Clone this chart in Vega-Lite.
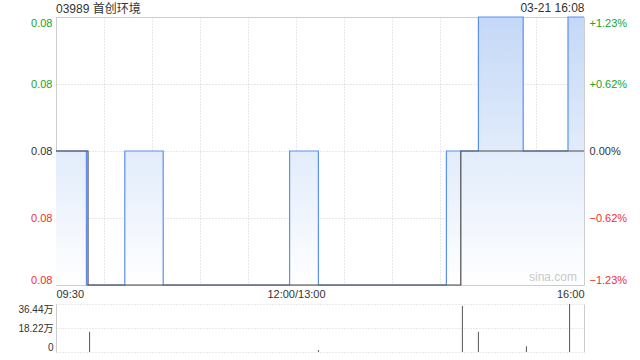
{
  "$schema": "https://vega.github.io/schema/vega-lite/v6.json",
  "padding": {"left": 17, "top": 0, "right": 0, "bottom": 0},
  "background": "white",
  "spacing": 3,
  "config": {
    "font": "Liberation Sans, Noto Sans CJK SC, sans-serif",
    "view": {"stroke": "#cccccc"},
    "axis": {
      "ticks": false,
      "domain": false,
      "gridColor": "#d0d0d0",
      "gridDash": [1, 2],
      "labelFontSize": 11,
      "labelColor": "#333333",
      "title": null
    }
  },
  "datasets": {
    "price": [
      {"t": 0, "p": 0.081},
      {"t": 19, "p": 0.080},
      {"t": 43, "p": 0.081},
      {"t": 67, "p": 0.080},
      {"t": 146, "p": 0.081},
      {"t": 164, "p": 0.080},
      {"t": 244, "p": 0.081},
      {"t": 264, "p": 0.082},
      {"t": 292, "p": 0.081},
      {"t": 320, "p": 0.082},
      {"t": 330, "p": 0.082}
    ],
    "avg": [
      {"t": 0, "a": 0.081},
      {"t": 20, "a": 0.080},
      {"t": 253, "a": 0.081},
      {"t": 330, "a": 0.081}
    ],
    "vol": [
      {"t": 21, "v": 15.3},
      {"t": 164, "v": 1.5},
      {"t": 254, "v": 35.0},
      {"t": 264, "v": 15.3},
      {"t": 294, "v": 4.4},
      {"t": 321, "v": 36.44}
    ]
  },
  "vconcat": [
    {
      "width": 528,
      "height": 268,
      "title": {
        "text": "03989 首创环境",
        "anchor": "start",
        "frame": "group",
        "fontSize": 12,
        "fontWeight": "normal",
        "color": "#333333",
        "offset": -15
      },
      "layer": [
        {
          "data": {"name": "price"},
          "mark": {
            "type": "area",
            "interpolate": "step-after",
            "fill": {
              "gradient": "linear",
              "x1": 0, "y1": 0, "x2": 0, "y2": 1,
              "stops": [
                {"offset": 0, "color": "#c4d8f7"},
                {"offset": 1, "color": "#ffffff"}
              ]
            }
          },
          "encoding": {
            "x": {
              "field": "t",
              "type": "quantitative",
              "scale": {"domain": [0, 330], "nice": false, "zero": false},
              "axis": {
                "orient": "bottom",
                "values": [0, 30, 60, 90, 120, 150, 180, 210, 240, 270, 300, 330],
                "labelExpr": "datum.value == 0 ? '09:30' : datum.value == 150 ? '12:00/13:00' : datum.value == 330 ? '16:00' : ''",
                "labelFlush": true,
                "labelOverlap": false,
                "grid": true,
                "labelPadding": 3
              }
            },
            "y": {
              "field": "p",
              "type": "quantitative",
              "scale": {"domain": [0.080, 0.082], "nice": false, "zero": false},
              "axis": {
                "orient": "left",
                "values": [0.080, 0.0805, 0.081, 0.0815, 0.082],
                "format": ".2f",
                "labelFlush": true,
                "labelPadding": 4,
                "grid": true,
                "labelColor": {
                  "condition": [
                    {"test": "datum.value > 0.08101", "value": "#22a322"},
                    {"test": "datum.value < 0.08099", "value": "#f03030"}
                  ],
                  "value": "#333333"
                }
              }
            },
            "y2": {"datum": 0.080}
          }
        },
        {
          "data": {"name": "price"},
          "mark": {"type": "line", "interpolate": "step-after", "color": "#5d90ee", "strokeWidth": 1.2},
          "encoding": {
            "x": {
              "field": "t",
              "type": "quantitative",
              "axis": {
                "orient": "top",
                "title": "03-21 16:08",
                "titleAnchor": "end",
                "titleFontSize": 12,
                "titleFontWeight": "normal",
                "titleColor": "#333333",
                "titlePadding": 3,
                "labels": false,
                "grid": false
              }
            },
            "y": {
              "field": "p",
              "type": "quantitative",
              "axis": {
                "orient": "right",
                "values": [0.080, 0.0805, 0.081, 0.0815, 0.082],
                "labelExpr": "(datum.value > 0.08101 ? '+' : '') + format((datum.value - 0.081) / 0.081 * 100, '.2f') + '%'",
                "labelFlush": true,
                "labelPadding": 5,
                "grid": false,
                "labelColor": {
                  "condition": [
                    {"test": "datum.value > 0.08101", "value": "#22a322"},
                    {"test": "datum.value < 0.08099", "value": "#f03030"}
                  ],
                  "value": "#333333"
                }
              }
            }
          }
        },
        {
          "data": {"name": "avg"},
          "mark": {"type": "line", "interpolate": "step-after", "color": "#4a4a4a", "strokeWidth": 1.2},
          "encoding": {
            "x": {"field": "t", "type": "quantitative", "axis": null},
            "y": {"field": "a", "type": "quantitative", "axis": null}
          }
        },
        {
          "data": {"values": [{"label": "sina.com"}]},
          "mark": {"type": "text", "align": "right", "baseline": "bottom", "dx": -7, "dy": -1, "color": "#c8c8c8", "fontSize": 12},
          "encoding": {
            "x": {"datum": 330, "axis": null},
            "y": {"datum": 0.080, "axis": null},
            "text": {"field": "label"}
          }
        }
      ],
      "resolve": {"axis": {"x": "independent", "y": "independent"}}
    },
    {
      "width": 528,
      "height": 48,
      "view": {"stroke": null},
      "data": {"name": "vol"},
      "layer": [
        {
          "mark": {"type": "rule", "color": "#555555", "strokeWidth": 1},
          "encoding": {
            "x": {
              "field": "t",
              "type": "quantitative",
              "scale": {"domain": [0, 330], "nice": false, "zero": false},
              "axis": {
                "orient": "bottom",
                "labels": false,
                "grid": false,
                "domain": true,
                "domainColor": "#888888",
                "domainDash": [2, 1]
              }
            },
            "y": {
              "field": "v",
              "type": "quantitative",
              "scale": {"domain": [0, 36.44], "nice": false},
              "axis": {
                "orient": "left",
                "values": [0, 18.22, 36.44],
                "labelExpr": "datum.value == 0 ? '0' : format(datum.value, '.2f') + '万'",
                "labelFlush": true,
                "grid": true,
                "domain": true,
                "domainColor": "#cccccc",
                "labelFontSize": 10,
                "labelPadding": 3
              }
            },
            "y2": {"datum": 0}
          }
        },
        {
          "mark": {"type": "rule", "strokeOpacity": 0},
          "encoding": {
            "x": {"field": "t", "type": "quantitative", "axis": null},
            "y": {
              "field": "v",
              "type": "quantitative",
              "axis": {"orient": "right", "labels": false, "grid": false, "domain": true, "domainColor": "#cccccc"}
            },
            "y2": {"datum": 0}
          }
        }
      ],
      "resolve": {"axis": {"y": "independent"}}
    }
  ]
}
